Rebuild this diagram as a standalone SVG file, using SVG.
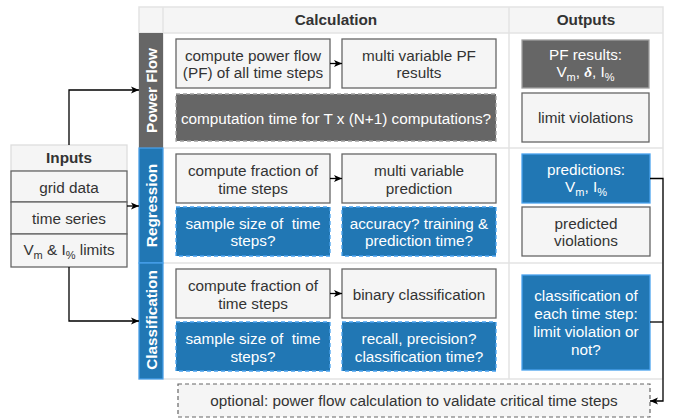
<svg xmlns="http://www.w3.org/2000/svg" width="676" height="419" viewBox="0 0 676 419">
<style>
text{font-family:"Liberation Sans",Arial,sans-serif;font-size:15.3px;text-anchor:middle;fill:#333}
.w{fill:#fff}
.b{font-weight:bold}
.sub{font-size:11px}
.gbox{fill:#f5f5f5;stroke:#666;stroke-width:1.3}
.dbox{fill:#666;stroke:#a0a0a0;stroke-width:1.3;stroke-dasharray:4 3}
.dsol{fill:#666;stroke:#a0a0a0;stroke-width:1.3}
.bbox{fill:#2177b4;stroke:#4aa3ef;stroke-width:1.3;stroke-dasharray:4 3}
.bsol{fill:#2177b4;stroke:#4aa3ef;stroke-width:1.3}
.grid{fill:none;stroke:#e3e3e3;stroke-width:1.5}
.con{fill:none;stroke:#000;stroke-width:1.3;marker-end:url(#arr)}
.ln{fill:none;stroke:#000;stroke-width:1.3}
</style>
<defs>
<marker id="arr" markerUnits="userSpaceOnUse" markerWidth="10" markerHeight="8" refX="8" refY="4" orient="auto">
<path d="M0,0.5 L8,4 L0,7.5 L2,4 z" fill="#000"/>
</marker>
</defs>

<g id="table">
<rect x="139" y="7" width="524" height="372" fill="#fff"/>
<rect x="139" y="7" width="524" height="26" fill="#f5f5f5"/>
<rect class="grid" x="139" y="7" width="524" height="372"/>
<path class="grid" d="M139,33 H663 M139,148 H663 M139,263 H663 M163,7 V379 M509,7 V379"/>
<text class="b" x="336" y="25">Calculation</text>
<text class="b" x="586" y="25">Outputs</text>
</g>

<g id="lane-powerflow">
<rect x="139" y="33" width="24" height="115" fill="#666"/>
<text class="b w" transform="translate(156.5,90.5) rotate(-90)">Power Flow</text>
</g>
<g id="lane-regression">
<rect x="139" y="148" width="24" height="115" fill="#2177b4" stroke="#4aa3ef" stroke-width="1.2"/>
<text class="b w" transform="translate(156.5,205.5) rotate(-90)">Regression</text>
</g>
<g id="lane-classification">
<rect x="139" y="263" width="24" height="116" fill="#2177b4" stroke="#4aa3ef" stroke-width="1.2"/>
<text class="b w" transform="translate(156.5,320) rotate(-90)">Classification</text>
</g>

<g id="inputs">
<rect x="11" y="145" width="116" height="26" fill="#f5f5f5" stroke="#ddd" stroke-width="1.3"/>
<text class="b" x="69" y="163">Inputs</text>
<rect class="gbox" x="11" y="171" width="116" height="31"/>
<text x="69" y="193">grid data</text>
<rect class="gbox" x="11" y="202" width="116" height="32"/>
<text x="69" y="224">time series</text>
<rect class="gbox" x="11" y="234" width="116" height="33"/>
<text x="69" y="255">V<tspan class="sub" dy="4">m</tspan><tspan dy="-4"> &amp; I</tspan><tspan class="sub" dy="4">%</tspan><tspan dy="-4"> limits</tspan></text>
</g>

<g id="pf-compute">
<rect class="gbox" x="176" y="39" width="154" height="49"/>
<text x="253" y="61">compute power flow</text>
<text x="253" y="78">(PF) of all time steps</text>
</g>
<g id="pf-results-multi">
<rect class="gbox" x="342" y="39" width="154" height="49"/>
<text x="419" y="61">multi variable PF</text>
<text x="419" y="78">results</text>
</g>
<g id="pf-time">
<rect class="dbox" x="176" y="94" width="320" height="47"/>
<text class="w" x="336" y="124">computation time for T x (N+1) computations?</text>
</g>
<g id="pf-out">
<rect class="dsol" x="522" y="40" width="127" height="48"/>
<text class="w" x="585.5" y="60">PF results:</text>
<text class="w" x="585.5" y="77">V<tspan class="sub" dy="4">m</tspan><tspan dy="-4">, </tspan><tspan font-style="italic" font-weight="bold" font-family="Liberation Serif">δ</tspan><tspan>, I</tspan><tspan class="sub" dy="4">%</tspan></text>
</g>
<g id="pf-violations">
<rect class="gbox" x="522" y="93" width="127" height="49"/>
<text x="585.5" y="123">limit violations</text>
</g>

<g id="reg-compute">
<rect class="gbox" x="176" y="154" width="154" height="49"/>
<text x="253" y="176">compute fraction of</text>
<text x="253" y="194">time steps</text>
</g>
<g id="reg-predict">
<rect class="gbox" x="342" y="154" width="154" height="49"/>
<text x="419" y="176">multi variable</text>
<text x="419" y="194">prediction</text>
</g>
<g id="reg-sample">
<rect class="bbox" x="176" y="207" width="154" height="49"/>
<text class="w" x="253" y="228.5" xml:space="preserve">sample size of  time</text>
<text class="w" x="253" y="246">steps?</text>
</g>
<g id="reg-accuracy">
<rect class="bbox" x="342" y="207" width="154" height="49"/>
<text class="w" x="419" y="228.5">accuracy? training &amp;</text>
<text class="w" x="419" y="246">prediction time?</text>
</g>
<g id="reg-out">
<rect class="bsol" x="522" y="154" width="128" height="49"/>
<text class="w" x="586" y="175">predictions:</text>
<text class="w" x="586" y="192">V<tspan class="sub" dy="4">m</tspan><tspan dy="-4">, I</tspan><tspan class="sub" dy="4">%</tspan></text>
</g>
<g id="reg-violations">
<rect class="gbox" x="522" y="207" width="128" height="49"/>
<text x="586" y="228.5">predicted</text>
<text x="586" y="246">violations</text>
</g>

<g id="cls-compute">
<rect class="gbox" x="176" y="269" width="154" height="49"/>
<text x="253" y="291">compute fraction of</text>
<text x="253" y="309">time steps</text>
</g>
<g id="cls-binary">
<rect class="gbox" x="342" y="269" width="154" height="49"/>
<text x="419" y="300">binary classification</text>
</g>
<g id="cls-sample">
<rect class="bbox" x="176" y="322" width="154" height="49"/>
<text class="w" x="253" y="344" xml:space="preserve">sample size of  time</text>
<text class="w" x="253" y="362">steps?</text>
</g>
<g id="cls-recall">
<rect class="bbox" x="342" y="322" width="154" height="49"/>
<text class="w" x="419" y="344">recall, precision?</text>
<text class="w" x="419" y="362">classification time?</text>
</g>
<g id="cls-out">
<rect class="bsol" x="522" y="275" width="128" height="95"/>
<text class="w" x="586" y="301">classification of</text>
<text class="w" x="586" y="319">each time step:</text>
<text class="w" x="586" y="337">limit violation or</text>
<text class="w" x="586" y="355">not?</text>
</g>

<g id="optional">
<rect x="178" y="384" width="472" height="33" fill="#f5f5f5" stroke="#666" stroke-width="1.2" stroke-dasharray="4 3"/>
<text x="414" y="406">optional: power flow calculation to validate critical time steps</text>
</g>

<g id="connectors">
<path class="con" d="M69,145 V90 H139"/>
<path class="con" d="M127,206 H139"/>
<path class="con" d="M69,267 V321 H139"/>
<path class="con" d="M330,63.5 H342"/>
<path class="con" d="M330,178.5 H342"/>
<path class="con" d="M330,293.5 H342"/>
<path class="con" d="M650,178.5 H663 V401 H650"/>
<path class="ln" d="M650,322 H663"/>
</g>
</svg>
